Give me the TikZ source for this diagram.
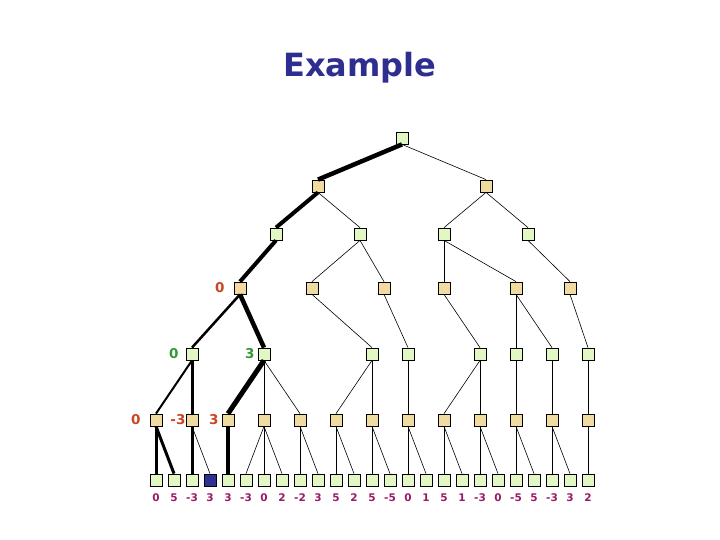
\documentclass[tikz,border=0pt]{standalone}
\usepackage{fontspec}
\setsansfont{DejaVu Sans}
\usetikzlibrary{positioning}

\definecolor{maxgreen}{HTML}{E2F7C4}
\definecolor{mintan}{HTML}{F0DCA0}
\definecolor{titleblue}{HTML}{2E2E90}
\definecolor{pickblue}{HTML}{2E3192}
\definecolor{valred}{HTML}{CC4422}
\definecolor{valgreen}{HTML}{339933}
\definecolor{leafval}{HTML}{991A66}

\begin{document}
\begin{tikzpicture}[x=1pt, y=-1pt,
    maxnode/.style={draw, fill=maxgreen, minimum size=12pt, inner sep=0pt, line width=0.8pt},
    minnode/.style={draw, fill=mintan, minimum size=12pt, inner sep=0pt, line width=0.8pt},
    edge/.style={line width=0.6pt},
    val/.style={font=\sffamily\bfseries\fontsize{13.5}{14}\selectfont, inner sep=0pt},
    leaflabel/.style={font=\sffamily\bfseries\fontsize{10.5}{11}\selectfont, text=leafval, inner sep=0pt}]
    \useasboundingbox (0,0) rectangle (720,540);
    \node[font=\sffamily\bfseries\fontsize{32}{34}\selectfont, text=titleblue] (title) at (360,68) {Example};
    % max / min levels
    \node[maxnode] (r) at (402,138) {};
    \node[minnode] (a1) at (318,186) {};
    \node[minnode] (a2) at (486,186) {};
    \node[maxnode] (b1) at (276,234) {};
    \node[maxnode] (b2) at (360,234) {};
    \node[maxnode] (b3) at (444,234) {};
    \node[maxnode] (b4) at (528,234) {};
    \node[minnode] (c1) at (240,288) {};
    \node[minnode] (c2) at (312,288) {};
    \node[minnode] (c3) at (384,288) {};
    \node[minnode] (c4) at (444,288) {};
    \node[minnode] (c5) at (516,288) {};
    \node[minnode] (c6) at (570,288) {};
    \node[maxnode] (d1) at (192,354) {};
    \node[maxnode] (d2) at (264,354) {};
    \node[maxnode] (d3) at (372,354) {};
    \node[maxnode] (d4) at (408,354) {};
    \node[maxnode] (d5) at (480,354) {};
    \node[maxnode] (d6) at (516,354) {};
    \node[maxnode] (d7) at (552,354) {};
    \node[maxnode] (d8) at (588,354) {};
    \foreach \i in {1,...,13}
      \node[minnode] (e\i) at ({156+36*(\i-1)},420) {};
    % leaves with their values
    \foreach \v/\c [count=\k] in {0/maxgreen, 5/maxgreen, -3/maxgreen, 3/pickblue, 3/maxgreen,
        -3/maxgreen, 0/maxgreen, 2/maxgreen, -2/maxgreen, 3/maxgreen, 5/maxgreen, 2/maxgreen,
        5/maxgreen, -5/maxgreen, 0/maxgreen, 1/maxgreen, 5/maxgreen, 1/maxgreen, -3/maxgreen,
        0/maxgreen, -5/maxgreen, 5/maxgreen, -3/maxgreen, 3/maxgreen, 2/maxgreen} {
      \node[maxnode, fill=\c] (l\k) at ({156+18*(\k-1)},480) {};
      \node[leaflabel] (v\k) at ({156+18*(\k-1)},498) {\v};
    }
    % backed-up values
    \node[val, text=valred, left=9pt of c1] (c1v) {0};
    \node[val, text=valgreen, left=7pt of d1] (d1v) {0};
    \node[val, text=valgreen, left=3pt of d2] (d2v) {3};
    \node[val, text=valred, left=9pt of e1] (e1v) {0};
    \node[val, text=valred, left=0pt of e2] (e2v) {-3};
    \node[val, text=valred, left=3pt of e3] (e3v) {3};
    % principal variation
    \draw[line width=4.5pt] (r.south) -- (a1.north);
    \draw[line width=4pt] (a1.south) -- (b1.north);
    \draw[line width=4pt] (b1.south) -- (c1.north);
    \draw[line width=2.5pt] (c1.south) -- (d1.north);
    \draw[line width=4.5pt] (c1.south) -- (d2.north);
    \draw[line width=2pt] (d1.south) -- (e1.north);
    \draw[line width=3pt] (d1.south) -- (e2.north);
    \draw[line width=5pt] (d2.south) -- (e3.north);
    \draw[line width=3pt] (e1.south) -- (l1.north);
    \draw[line width=3pt] (e1.south) -- (l2.north);
    \draw[line width=3pt] (e2.south) -- (l3.north);
    \draw[line width=4pt] (e3.south) -- (l5.north);
    % remaining branches
    \foreach \p/\q in {r/a2, a1/b2, a2/b3, a2/b4, b2/c2, b2/c3, b3/c4, b3/c5, b4/c6,
        c2/d3, c3/d4, c4/d5, c5/d6, c5/d7, c6/d8,
        d2/e4, d2/e5, d3/e6, d3/e7, d4/e8, d5/e9, d5/e10, d6/e11, d7/e12, d8/e13,
        e2/l4, e4/l6, e4/l7, e4/l8, e5/l9, e5/l10, e6/l11, e6/l12, e7/l13, e7/l14,
        e8/l15, e8/l16, e9/l17, e9/l18, e10/l19, e10/l20, e11/l21, e11/l22,
        e12/l23, e12/l24, e13/l25}
      \draw[edge] (\p.south) -- (\q.north);
\end{tikzpicture}
\end{document}
